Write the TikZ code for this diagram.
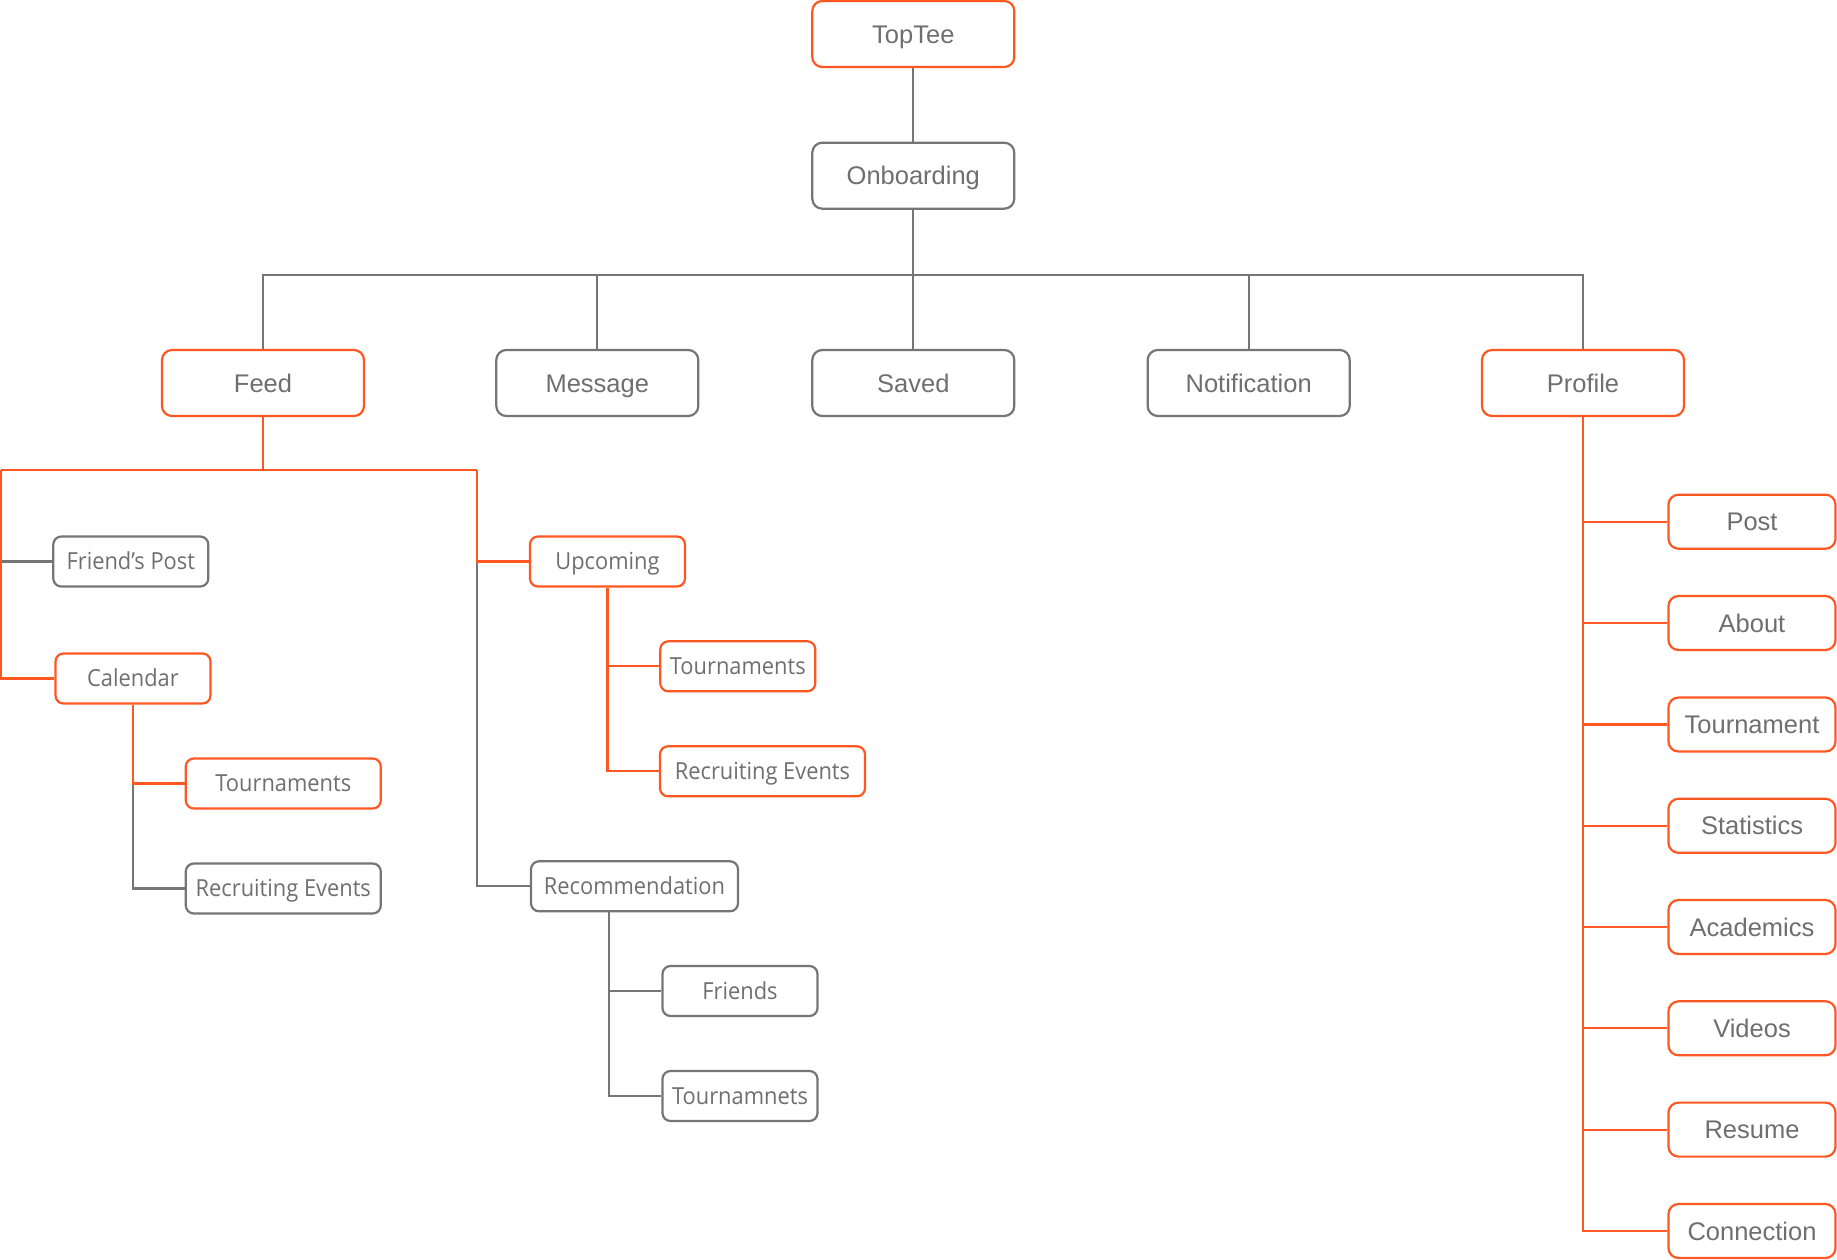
\documentclass[tikz,border=0pt]{standalone}
\usepackage{fontspec}
\setmainfont{Liberation Sans}
\newfontfamily\innerfont{Open Sans}[FakeStretch=0.93]
\definecolor{org}{HTML}{FF5722}
\definecolor{lgray}{HTML}{757575}
\definecolor{txtgray}{HTML}{6F6F6F}
\begin{document}
\begin{tikzpicture}[x=1pt,y=-1pt,
  base/.style={rounded corners=10pt, line width=2.2pt, inner sep=0pt, text=txtgray, fill=white},
  topbox/.style={base, minimum width=202pt, minimum height=66pt,
     font=\fontsize{25.5}{30}\selectfont, text height=18.3pt, text depth=0pt},
  pbox/.style={base, minimum width=167pt, minimum height=54pt,
     font=\fontsize{25.5}{30}\selectfont, text height=18.3pt, text depth=0pt},
  ibox/.style={base, rounded corners=8pt, minimum height=50pt,
     font=\innerfont\fontsize{23.5}{28}\selectfont, text height=16.8pt, text depth=0pt},
  ob/.style={draw=org},
  gb/.style={draw=lgray},
  olink/.style={draw=org, line width=2.2pt},
  glink/.style={draw=lgray, line width=2.2pt}]
\useasboundingbox (0,0) rectangle (1837,1260);

% top
\node[topbox,ob] (toptee) at (913.3,34) {TopTee};
\node[topbox,gb] (onb) at (913.3,175.7) {Onboarding};

% level 1
\node[topbox,ob] (feed) at (263,383) {Feed};
\node[topbox,gb] (msg) at (597.3,383) {Message};
\node[topbox,gb] (saved) at (913.3,383) {Saved};
\node[topbox,gb] (notif) at (1248.7,383) {Notification};
\node[topbox,ob] (profile) at (1583,383) {Profile};

% feed children
\node[ibox,gb,minimum width=155pt] (fpost) at (130.8,561.5) {Friend’s Post};
\node[ibox,ob,minimum width=155pt] (cal) at (133,678.5) {Calendar};
\node[ibox,ob,minimum width=195pt] (ctour) at (283.3,783.5) {Tournaments};
\node[ibox,gb,minimum width=195pt] (crec) at (283.3,888.5) {Recruiting Events};

\node[ibox,ob,minimum width=155pt] (upc) at (607.5,561.5) {Upcoming};
\node[ibox,ob,minimum width=155pt] (utour) at (737.8,666.3) {Tournaments};
\node[ibox,ob,minimum width=205pt] (urec) at (762.5,771.3) {Recruiting Events};

\node[ibox,gb,minimum width=207pt] (rec) at (634.5,886.3) {Recommendation};
\node[ibox,gb,minimum width=155pt] (rfr) at (740,991) {Friends};
\node[ibox,gb,minimum width=155pt] (rtour) at (740,1096) {Tournamnets};

% profile children
\node[pbox,ob] (ppost) at (1752,521.7) {Post};
\node[pbox,ob] (pabout) at (1752,623) {About};
\node[pbox,ob] (ptour) at (1752,724.5) {Tournament};
\node[pbox,ob] (pstat) at (1752,825.8) {Statistics};
\node[pbox,ob] (pacad) at (1752,927) {Academics};
\node[pbox,ob] (pvid) at (1752,1028.3) {Videos};
\node[pbox,ob] (pres) at (1752,1129.6) {Resume};
\node[pbox,ob] (pconn) at (1752,1231) {Connection};

% coordinates
\coordinate (busy) at (0,275);
\coordinate (fl) at (1.2,470);
\coordinate (fr) at (477,470);

% top connectors
\draw[glink] (toptee.south) -- (onb.north);
\draw[glink] (onb.south) -- (onb.south |- busy);
\draw[glink] (feed.north) -- (feed.north |- busy) -| (profile.north);
\draw[glink] (msg.north) -- (msg.north |- busy);
\draw[glink] (saved.north) -- (saved.north |- busy);
\draw[glink] (notif.north) -- (notif.north |- busy);

% feed branch
\draw[glink] (fl |- fpost.west) -- (fpost.west);
\draw[glink] (fr |- upc.west) |- (rec.west);
\draw[olink] (feed.south) -- (feed.south |- fl);
\draw[olink] (fl) -- (fr);
\draw[olink] (fl) |- (cal.west);
\draw[olink] (fr) |- (upc.west);

% calendar branch
\draw[glink] (cal.south |- ctour.west) |- (crec.west);
\draw[olink] (cal.south) |- (ctour.west);

% upcoming branch
\draw[olink] (upc.south) |- (utour.west);
\draw[olink] (upc.south) |- (urec.west);

% recommendation branch
\draw[glink] ([xshift=79.3pt]rec.south west) |- (rfr.west);
\draw[glink] ([xshift=79.3pt]rec.south west) |- (rtour.west);

% profile branch
\draw[olink] (profile.south) |- (pconn.west);
\foreach \n in {ppost,pabout,ptour,pstat,pacad,pvid,pres}
  \draw[olink] (profile.south |- \n.west) -- (\n.west);
\end{tikzpicture}
\end{document}
